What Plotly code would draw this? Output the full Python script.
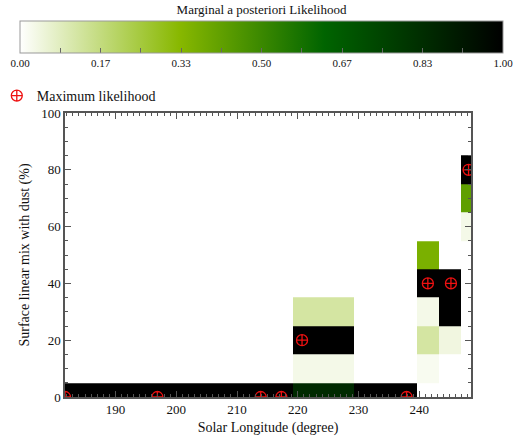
import plotly.graph_objects as go

# Solar longitude bin edges (degree)
ls_edges = [181.7, 219.2, 229.2, 239.6, 243.2, 246.8, 248.5]
# Surface linear mix bin edges (%), bins centred on 0,10,...,90
mix_edges = [-5, 5, 15, 25, 35, 45, 55, 65, 75, 85, 95]
N = None
# rows = mix bins (0..90), columns = longitude bins
likelihood = [
    [1.00, 0.85, 1.00, N,    N,    N],     # 0
    [N,    0.03, N,    0.02, N,    N],     # 10
    [N,    1.00, N,    0.12, 0.04, N],     # 20
    [N,    0.12, N,    0.03, 1.00, N],     # 30
    [N,    N,    N,    1.00, 1.00, N],     # 40
    [N,    N,    N,    0.36, N,    N],     # 50
    [N,    N,    N,    N,    N,    0.03],  # 60
    [N,    N,    N,    N,    N,    0.42],  # 70
    [N,    N,    N,    N,    N,    1.00],  # 80
    [N,    N,    N,    N,    N,    N],     # 90
]

# Maximum likelihood points
ml_ls = [181.7, 196.9, 213.9, 217.3, 220.7, 237.9, 241.4, 245.2, 248.1]
ml_mix = [0, 0, 0, 0, 20, 0, 40, 40, 80]

cb_tickvals = [i / 12 for i in range(13)]
cb_ticktext = [("%.2f" % v) if i % 2 == 0 else "" for i, v in enumerate(cb_tickvals)]

FONT = "Liberation Serif"
AXC = "#555555"

fig = go.Figure()
fig.add_trace(go.Heatmap(
    x=ls_edges, y=mix_edges, z=likelihood, zmin=0, zmax=1,
    colorscale=[[0, "#ffffff"], [0.33, "#88b800"], [0.63, "#006400"], [1, "#000000"]],
    showlegend=False, hoverongaps=False,
    colorbar=dict(
        orientation="h", thicknessmode="pixels", thickness=32,
        lenmode="pixels", len=483, x=0.484, xanchor="center",
        y=1.377, yanchor="top", ypad=0, xpad=0,
        outlinecolor="#999999", outlinewidth=1,
        tickvals=cb_tickvals, ticktext=cb_ticktext,
        ticks="inside", ticklen=5, tickcolor="#666666",
        ticklabeloverflow="allow",
        tickfont=dict(family=FONT, size=11, color="#111"),
        title=dict(text="Marginal a posteriori Likelihood", side="top",
                   font=dict(family=FONT, size=13, color="#111")),
    ),
))
fig.add_trace(go.Scatter(
    x=ml_ls, y=ml_mix, mode="markers", name="Maximum likelihood",
    marker=dict(symbol="circle-cross-open", size=11, color="#ee1111",
                line=dict(width=1.3)),
    cliponaxis=True,
))

axis_common = dict(
    showline=True, linecolor=AXC, linewidth=1.5, mirror="ticks",
    ticks="inside", tickcolor=AXC, ticklen=6, tickwidth=1,
    showgrid=False, zeroline=False,
    tickfont=dict(family=FONT, size=13, color="#111"),
)
fig.update_xaxes(
    range=[181.7, 248.5], dtick=10, tick0=180,
    minor=dict(dtick=1, ticks="inside", ticklen=3, tickcolor=AXC),
    title=dict(text="Solar Longitude (degree)", font=dict(family=FONT, size=14, color="#111"), standoff=6),
    **axis_common,
)
fig.update_yaxes(
    range=[0, 100], dtick=20,
    minor=dict(dtick=5, ticks="inside", ticklen=3, tickcolor=AXC),
    title=dict(text="Surface linear mix with dust (%)", font=dict(family=FONT, size=14, color="#111"), standoff=8),
    **axis_common,
)
fig.update_layout(
    width=513, height=445,
    margin=dict(l=65, r=42, t=113, b=48, autoexpand=False),
    plot_bgcolor="white", paper_bgcolor="white",
    font=dict(family=FONT, color="#111"),
    showlegend=True,
    legend=dict(x=-0.168, xanchor="left", y=1.06, yanchor="middle",
                font=dict(family=FONT, size=14, color="#111"),
                bgcolor="rgba(0,0,0,0)", itemwidth=30),
)
fig.write_html("out.html", config={"displayModeBar": False},
               post_script="document.body.style.margin='0';document.body.style.padding='0';")
